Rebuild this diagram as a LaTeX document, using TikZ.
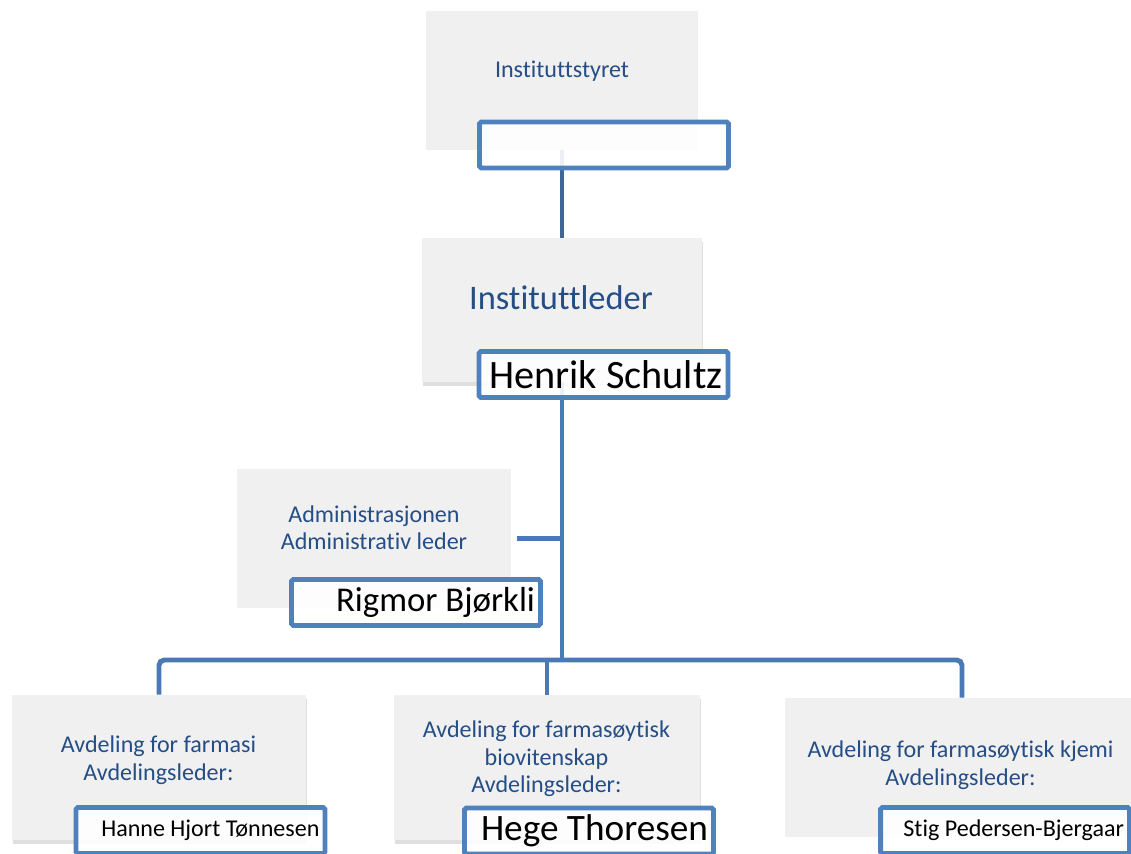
\documentclass[tikz,border=0pt]{standalone}
\usepackage{fontspec}
\setmainfont{Carlito}[Ligatures=NoCommon]
\usepackage{tikz}
\usetikzlibrary{positioning, calc, shadows}

\definecolor{boxgray}{HTML}{F0F0F0}
\definecolor{textblue}{HTML}{254E86}
\definecolor{nameblue}{HTML}{4F81BD}
\definecolor{linkblue}{HTML}{4A7AB5}
\definecolor{linkdark}{HTML}{3E6699}

\begin{document}
\begin{tikzpicture}[x=0.02cm, y=-0.02cm]
        % Define block styles
        \tikzstyle{box} = [rectangle, fill=boxgray, inner sep=0pt]
        \tikzstyle{shadowed} = [drop shadow={shadow xshift=0.5pt, shadow yshift=-2pt, opacity=0.25}]
        \tikzstyle{unittext} = [text=textblue, align=center, inner sep=0pt, font=\fontsize{13.7}{15.6}\selectfont]
        \tikzstyle{namebox} = [rectangle, draw=nameblue, line width=2.8pt, fill=white, fill opacity=0.9, text opacity=1, rounded corners=1pt, minimum width=4.98cm, minimum height=0.92cm, text width=4.76cm, align=flush right, inner sep=0pt]
        \tikzstyle{link} = [draw=linkblue, line width=2.8pt]

        \clip (0,0) rectangle (1131,853);

        % Place units
        \node [box, minimum width=5.46cm, minimum height=2.78cm] (styret) at (562,80.5) {};
        \node [box, shadowed, minimum width=5.6cm, minimum height=2.88cm] (leder) at (562,310) {};
        \node [box, minimum width=5.48cm, minimum height=2.78cm] (admin) at (374,538.5) {};
        \node [box, shadowed, minimum width=5.88cm, minimum height=2.9cm] (farmasi) at (159,767.5) {};
        \node [box, shadowed, minimum width=6.12cm, minimum height=2.9cm] (biovit) at (547,767.5) {};
        \node [box, minimum width=7.08cm, minimum height=2.78cm] (kjemi) at (962,767.5) {};

        % Unit titles
        \node [unittext] (styret-text) at (562,71) {Instituttstyret};
        \node [unittext, font=\fontsize{19.6}{23}\selectfont] (leder-text) at (561,298) {Instituttleder};
        \node [unittext] (admin-text) at (374,528) {Administrasjonen\\Administrativ leder};
        \node [unittext] (farmasi-text) at (158.5,760) {Avdeling for farmasi\\Avdelingsleder:};
        \node [unittext] (biovit-text) at (546.5,759) {Avdeling for farmasøytisk\\biovitenskap\\Avdelingsleder:};
        \node [unittext] (kjemi-text) at (960.5,765) {Avdeling for farmasøytisk kjemi\\Avdelingsleder:};

        % Draw connections
        \coordinate (bus) at (562,660);
        \draw [link, draw=linkdark] (styret.south) -- (leder.north);
        \draw [link] (leder.south) -- (bus);
        \draw [link, shorten <=0.12cm] (admin.east) -- (admin.east -| bus);
        \draw [link, rounded corners=3pt] (farmasi.north) |- (bus) -| (kjemi.north);
        \draw [link] (biovit.north) -- (biovit.north |- bus);

        % Place name boxes
        \node [namebox] (styreleder) at (604,145) {};
        \node [namebox, font=\fontsize{22.9}{27}\selectfont] (henrik) at (603.5,374.5) {Henrik Schultz};
        \node [namebox, font=\fontsize{19.8}{23}\selectfont] (rigmor) at (416,602.5) {Rigmor Bjørkli};
        \node [namebox, font=\fontsize{13.7}{16}\selectfont] (hanne) at (200.5,830.5) {Hanne Hjort Tønnesen};
        \node [namebox, font=\fontsize{21.2}{25}\selectfont] (hege) at (589,831) {Hege Thoresen};
        \node [namebox, font=\fontsize{13.7}{16}\selectfont] (stig) at (1005,830.5) {Stig Pedersen-Bjergaar};
    \end{tikzpicture}
\end{document}
